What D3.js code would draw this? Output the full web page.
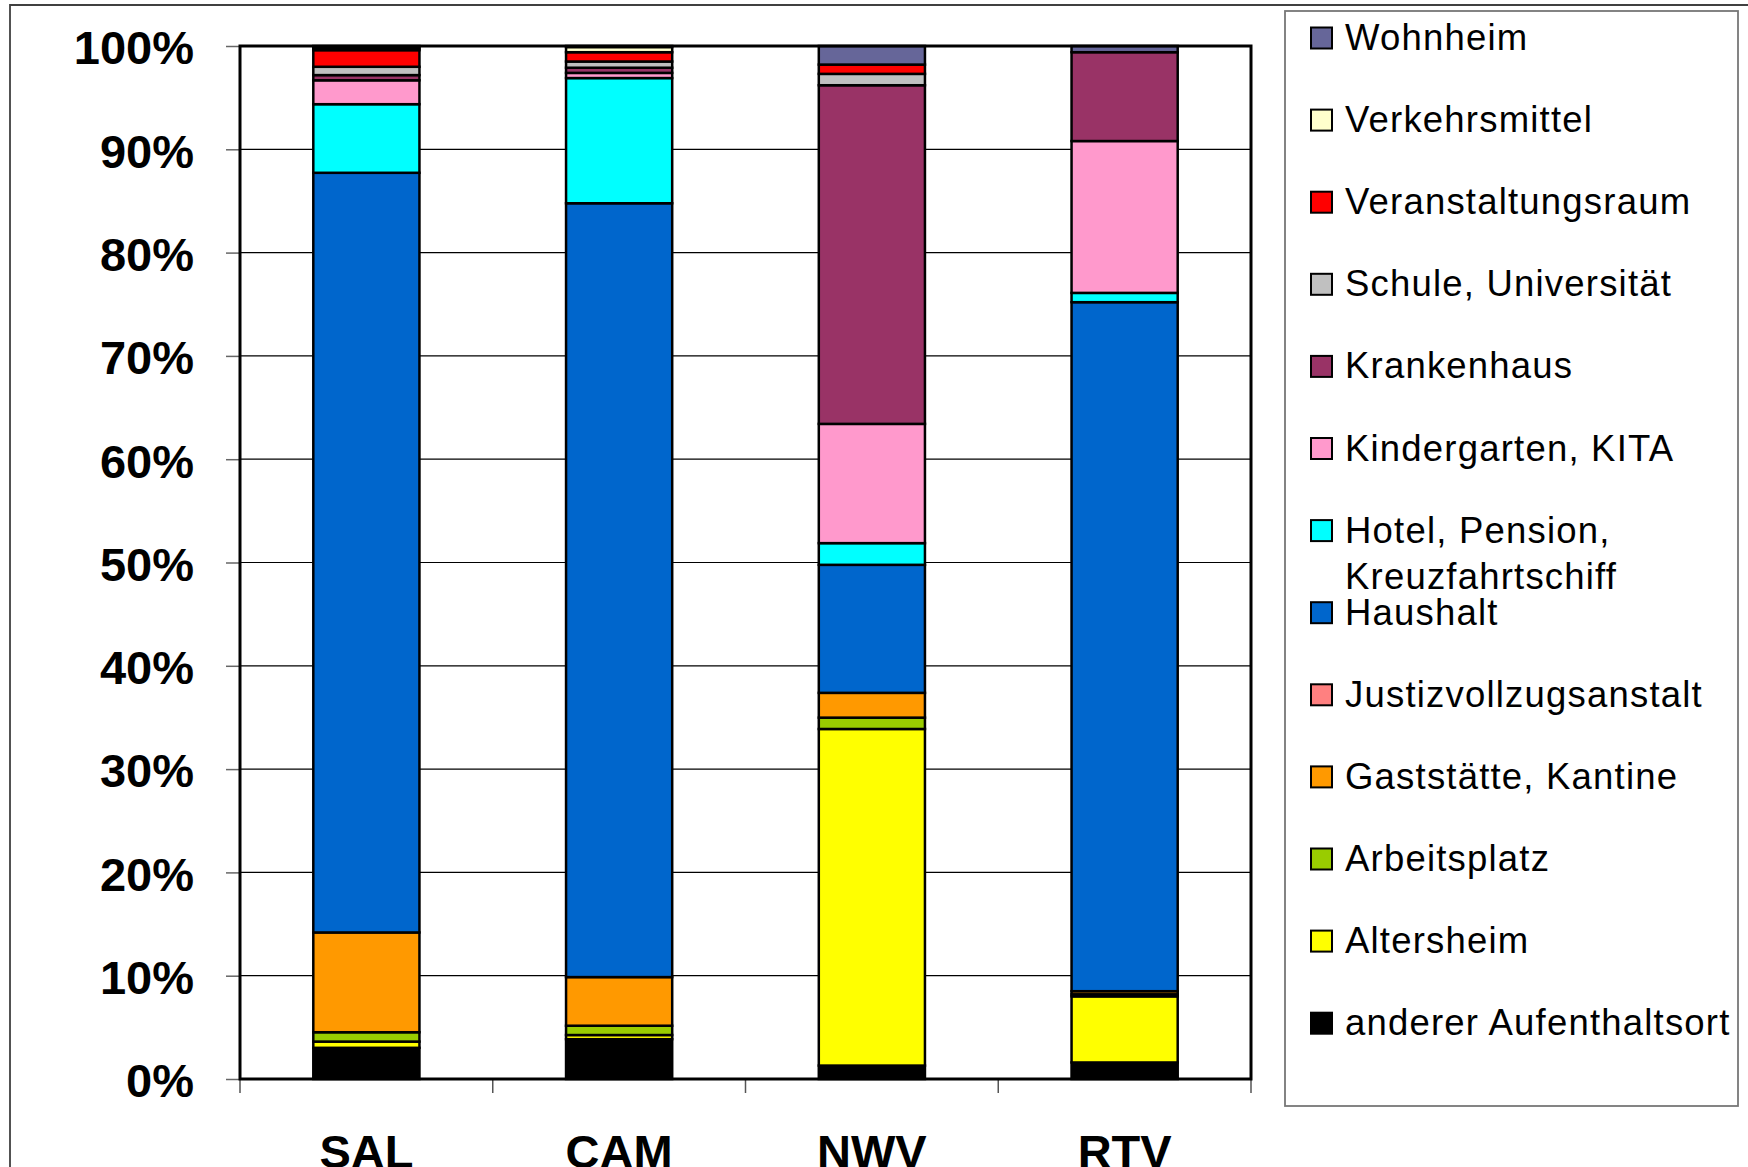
<!DOCTYPE html>
<html>
<head>
<meta charset="utf-8">
<script src="https://cdn.jsdelivr.net/npm/d3@7"></script>
<style>
  body { margin: 0; background: #fff; }
  svg { display: block; font-family: "Liberation Sans", Arial, sans-serif; }
</style>
</head>
<body>
<div class="grafico"></div>
<script>
// categories (x axis)
const categories = ["SAL", "CAM", "NWV", "RTV"];

// series, stacked from bottom to top
const seriesNames = [
  "anderer Aufenthaltsort", "Altersheim", "Arbeitsplatz", "Gaststätte, Kantine",
  "Justizvollzugsanstalt", "Haushalt", "Hotel, Pension, Kreuzfahrtschiff",
  "Kindergarten, KITA", "Krankenhaus", "Schule, Universität",
  "Veranstaltungsraum", "Verkehrsmittel", "Wohnheim"
];
const seriesColors = [
  "#000000", "#FFFF00", "#99CC00", "#FF9900", "#FF8080", "#0066CC", "#00FFFF",
  "#FF99CC", "#993366", "#C0C0C0", "#FF0000", "#FFFFCC", "#666699"
];

// share in % per category, same order as seriesNames
const SAL = [3.0, 0.6, 0.9, 9.6, 0, 73.1, 6.6, 2.3, 0.5, 0.8, 1.6, 0.2, 0.2];
const CAM = [3.85, 0.4, 0.9, 4.7, 0, 74.8, 12.1, 0.5, 0.5, 0.6, 0.9, 0.5, 0.1];
const NWV = [1.3, 32.6, 1.1, 2.4, 0, 12.4, 2.1, 11.55, 32.8, 1.1, 0.9, 0, 1.8];
const RTV = [1.6, 6.4, 0.2, 0.3, 0, 66.7, 0.9, 14.7, 8.6, 0, 0, 0, 0.6];

const yTicks = d3.range(0, 11).map(d => d / 10);

const width = 1748, height = 1167;
const margin = { top: 46, right: 497, bottom: 88, left: 240 };
const plotW = width - margin.left - margin.right,
      plotH = height - margin.top - margin.bottom;

const table = [SAL, CAM, NWV, RTV].map((vals, i) => {
  const row = { cat: categories[i] };
  seriesNames.forEach((s, j) => row[s] = vals[j]);
  return row;
});

const stacked = d3.stack()
  .keys(seriesNames)
  .offset(d3.stackOffsetExpand)(table);

const svg = d3.select(".grafico")
  .append("svg")
  .attr("width", width)
  .attr("height", height);

// outer chart frame
svg.append("path")
  .attr("d", `M10,${height + 5} L10,5 L${width + 5},5`)
  .attr("fill", "none")
  .attr("stroke", "#404040")
  .attr("stroke-width", 1.8);

const g = svg.append("g")
  .attr("transform", "translate(" + margin.left + "," + margin.top + ")");

const x = d3.scaleBand()
  .domain(categories)
  .range([0, plotW])
  .paddingInner(0.58)
  .paddingOuter(0.29);

const y = d3.scaleLinear()
  .domain([0, 1])
  .range([plotH, 0]);

// gridlines
g.append("g")
  .selectAll("line")
  .data(yTicks)
  .enter().append("line")
  .attr("x1", 0)
  .attr("x2", plotW)
  .attr("y1", d => y(d))
  .attr("y2", d => y(d))
  .attr("stroke", "#000")
  .attr("stroke-width", 1.2);

// y axis
const yAxis = d3.axisLeft(y)
  .tickValues(yTicks)
  .tickFormat(d3.format(".0%"))
  .tickSize(14)
  .tickPadding(32);

const ya = g.append("g").attr("class", "y axis").call(yAxis);
ya.select(".domain").remove();
ya.selectAll(".tick line").attr("stroke", "#666").attr("stroke-width", 1.5);
ya.selectAll("text")
  .attr("font-size", 47)
  .attr("font-weight", "bold")
  .attr("fill", "#000")
  .attr("dy", "0.38em");

// x axis ticks at category boundaries
const boundaries = categories.map(c => x(c) - x.step() * x.paddingInner() / 2);
boundaries[0] = 0;
boundaries.push(plotW);
g.append("g")
  .selectAll("line")
  .data(boundaries)
  .enter().append("line")
  .attr("x1", d => d)
  .attr("x2", d => d)
  .attr("y1", plotH)
  .attr("y2", plotH + 14)
  .attr("stroke", "#555")
  .attr("stroke-width", 1.5);

// x labels
g.append("g")
  .selectAll("text")
  .data(categories)
  .enter().append("text")
  .attr("x", d => x(d) + x.bandwidth() / 2)
  .attr("y", plotH + 89)
  .attr("text-anchor", "middle")
  .attr("font-size", 47)
  .attr("font-weight", "bold")
  .text(d => d);

// stacked bars
g.append("g")
  .selectAll("g")
  .data(stacked)
  .enter().append("g")
  .attr("fill", (d, i) => seriesColors[i])
  .selectAll("rect")
  .data(d => d.filter(p => p[1] - p[0] > 0))
  .enter().append("rect")
  .attr("x", d => x(d.data.cat))
  .attr("y", d => y(d[1]))
  .attr("width", x.bandwidth())
  .attr("height", d => y(d[0]) - y(d[1]))
  .attr("stroke", "#000")
  .attr("stroke-width", 2.5);

// plot border
g.append("rect")
  .attr("x", 0)
  .attr("y", 0)
  .attr("width", plotW)
  .attr("height", plotH)
  .attr("fill", "none")
  .attr("stroke", "#000")
  .attr("stroke-width", 3);

// legend
const legendX = 1285, legendY = 11, legendW = 453, legendH = 1095;
svg.append("rect")
  .attr("x", legendX)
  .attr("y", legendY)
  .attr("width", legendW)
  .attr("height", legendH)
  .attr("fill", "#fff")
  .attr("stroke", "#777")
  .attr("stroke-width", 1.8);

const legendItems = seriesNames.map((s, i) => ({ name: s, color: seriesColors[i] })).reverse();
const legendRectSize = 21, rowStep = 82.1;

const legend = svg.append("g")
  .selectAll("g")
  .data(legendItems)
  .enter().append("g")
  .attr("transform", (d, i) => "translate(" + (legendX + 26) + "," + (38 + i * rowStep) + ")");

legend.append("rect")
  .attr("x", 0)
  .attr("y", -legendRectSize / 2)
  .attr("width", legendRectSize)
  .attr("height", legendRectSize)
  .attr("fill", d => d.color)
  .attr("stroke", "#000")
  .attr("stroke-width", 2);

legend.append("text")
  .attr("x", 34)
  .attr("y", 12)
  .attr("font-size", 36.5)
  .attr("letter-spacing", 1.2)
  .attr("fill", "#000")
  .each(function(d) {
    const t = d3.select(this);
    if (d.name.startsWith("Hotel")) {
      t.append("tspan").attr("x", 34).attr("dy", 0).text("Hotel, Pension,");
      t.append("tspan").attr("x", 34).attr("dy", 46).text("Kreuzfahrtschiff");
    } else {
      t.text(d.name);
    }
  });
</script>
</body>
</html>
